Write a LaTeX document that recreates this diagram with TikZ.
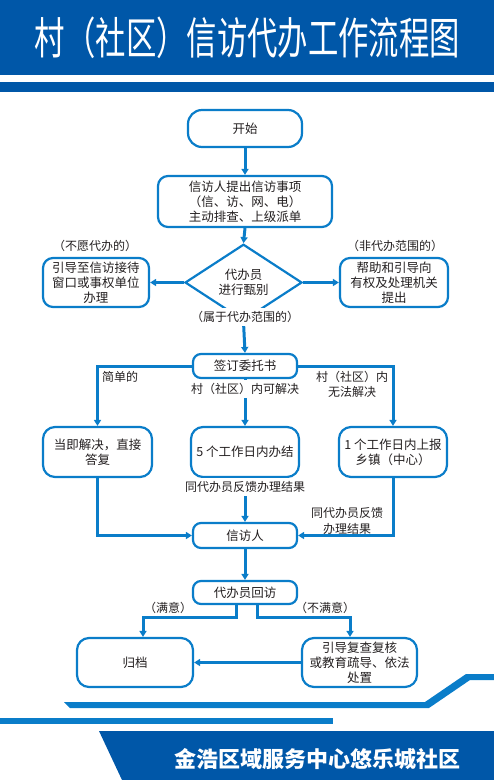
\documentclass[tikz,border=0pt]{standalone}
\usepackage{fontspec}
\setmainfont{Noto Sans CJK SC}
\usetikzlibrary{arrows.meta,shapes.geometric}
\definecolor{dkblue}{HTML}{0057A8}
\definecolor{ltblue}{HTML}{0A7DC9}
\definecolor{txt}{HTML}{231F20}
\begin{document}
\begin{tikzpicture}[x=1pt,y=-1pt,
  box/.style={draw=ltblue, line width=2.2pt, rounded corners=10pt, fill=white, align=center,
    font=\fontsize{12.5}{15}\selectfont, text=txt, inner sep=0pt},
  conn/.style={draw=ltblue, line width=3pt},
  arr/.style={conn, -{Triangle[length=6pt,width=7pt]}},
  lbl/.style={font=\fontsize{12}{15.5}\selectfont, text=txt, align=center, inner sep=1pt},
  wlbl/.style={lbl, fill=white, inner ysep=3pt}]
\useasboundingbox (0,0) rectangle (494,780);
% banners
\fill[dkblue] (0,0) rectangle (494,75);
\fill[dkblue] (0,82) rectangle (494,92);
\node[text=white, font=\fontsize{44}{48}\selectfont, inner sep=0pt] (title) at (247.5,38)
  {\scalebox{0.69}[1]{村（社区）信访代办工作流程图}};
\fill[ltblue] (64,702) -- (425,702) -- (466,674) -- (494,674) -- (494,680) -- (470,680) -- (429,708) -- (70,708) -- cycle;
\fill[ltblue] (0,718) rectangle (333,724);
\fill[dkblue] (99,731) -- (494,731) -- (494,780) -- (122,780) -- cycle;
\node[text=white, font=\bfseries\fontsize{22}{26}\selectfont, inner sep=0pt] (foot) at (317.5,759)
  {金浩区域服务中心悠乐城社区};
% nodes
\node[box, rounded corners=14pt, minimum width=114, minimum height=37] (start) at (245,128.5) {开始};
\node[box, minimum width=174, minimum height=51] (sub) at (245,201.5)
  {信访人提出信访事项\\（信、访、网、电）\\主动排查、上级派单};
\node[box, diamond, rounded corners=0pt, minimum width=117, minimum height=49] (dia) at (243.5,282.5)
  {代办员\\进行甄别};
\node[box, minimum width=106, minimum height=49] (l1) at (96,282.5)
  {引导至信访接待\\窗口或事权单位\\办理};
\node[box, minimum width=108, minimum height=49] (r1) at (394,282.5)
  {帮助和引导向\\有权及处理机关\\提出};
\node[box, rounded corners=8pt, minimum width=104, minimum height=24] (sign) at (245,366) {签订委托书};
\node[box, rounded corners=12pt, minimum width=109, minimum height=50] (a) at (97.5,452)
  {当即解决，直接\\答复};
\node[box, rounded corners=12pt, minimum width=108, minimum height=50] (b) at (245,452)
  {5 个工作日内办结};
\node[box, rounded corners=12pt, minimum width=108, minimum height=50] (c) at (393,452)
  {1 个工作日内上报\\乡镇（中心）};
\node[box, rounded corners=8pt, minimum width=104, minimum height=25] (v) at (245,535.5) {信访人};
\node[box, rounded corners=8pt, minimum width=104, minimum height=23] (rv) at (245,592.5) {代办员回访};
\node[box, rounded corners=12pt, minimum width=116, minimum height=49] (ar) at (135,662.5) {归档};
\node[box, rounded corners=12pt, minimum width=115, minimum height=49] (rw) at (359.5,662.5)
  {引导复查复核\\或教育疏导、依法\\处置};
% connectors
\draw[arr] (start.south) -- (sub.north);
\draw[arr] (sub.south) -- (dia.north);
\draw[arr] (dia.west) -- (l1.east);
\draw[arr] (dia.east) -- (r1.west);
\draw[arr] (dia.south) -- (sign.north);
\draw[arr] (sign.west) -| (a.north);
\draw[arr] (sign.east) -| (c.north);
\draw[arr] (sign.south) -- (b.north);
\draw[arr] (a.south) |- (v.west);
\draw[arr] (c.south) |- (v.east);
\draw[arr] (b.south) -- (v.north);
\draw[arr] (v.south) -- (rv.north);
\draw[arr] ([xshift=-9pt]rv.south) -- ++(0,12) -| ([xshift=8pt]ar.north);
\draw[arr] ([xshift=12pt]rv.south) -- ++(0,12) -| ([xshift=-9.5pt]rw.north);
\draw[arr] (rw.west) -- (ar.east);
% labels
\node[lbl] (lb1) at (95,246) {（不愿代办的）};
\node[lbl] (lb2) at (395,246) {（非代办范围的）};
\node[wlbl] (lb3) at (245,317) {（属于代办范围的）};
\node[lbl] (lb4) at (120,377) {简单的};
\node[wlbl] (lb5) at (245,389) {村（社区）内可解决};
\node[lbl] (lb6) at (352,384.5) {村（社区）内\\无法解决};
\node[wlbl] (lb7) at (245,487) {同代办员反馈办理结果};
\node[lbl] (lb8) at (347,521) {同代办员反馈\\办理结果};
\node[lbl] (lb9) at (168,608) {（满意）};
\node[lbl] (lb10) at (325,608) {（不满意）};
\end{tikzpicture}
\end{document}
